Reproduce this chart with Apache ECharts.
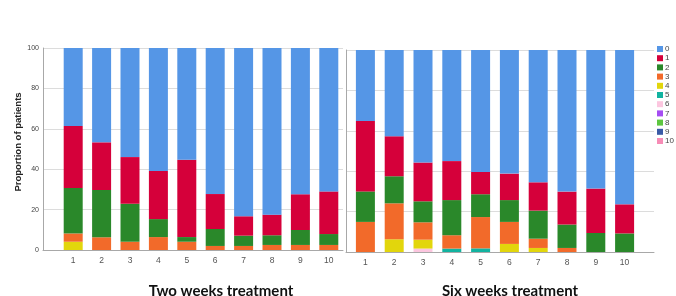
<!DOCTYPE html>
<html>
<head>
<meta charset="utf-8">
<script src="https://cdn.jsdelivr.net/npm/echarts@6/dist/echarts.min.js"></script>
<style>
  html, body { margin: 0; padding: 0; background: #fff; }
  #chart { width: 676px; height: 296px; }
</style>
</head>
<body>
<div id="chart"></div>
<script>
// categories and legend codes
const categories = ['1', '2', '3', '4', '5', '6', '7', '8', '9', '10']
const codes = ['0', '1', '2', '3', '4', '5', '6', '7', '8', '9', '10']
const colors = ['#5596e6', '#d5003a', '#2a882a', '#f26a2a', '#e2d60c', '#12b3a0',
  '#fcc6df', '#a54df2', '#5dc640', '#3a5aa6', '#f78cb6']

// two weeks treatment, % of patients per score
const two0 = [38.6, 46.7, 54.0, 60.9, 55.3, 72.3, 83.3, 82.5, 72.4, 71.0]
const two1 = [30.7, 23.6, 23.1, 23.8, 38.3, 17.3, 9.6, 10.2, 17.7, 21.1]
const two2 = [22.5, 23.4, 18.8, 8.9, 2.3, 8.4, 5.1, 4.8, 7.4, 5.4]
const two3 = [4.1, 6.3, 4.1, 6.4, 4.1, 2.0, 2.0, 2.5, 2.5, 2.5]
const two4 = [4.1, 0, 0, 0, 0, 0, 0, 0, 0, 0]
const zeros = [0, 0, 0, 0, 0, 0, 0, 0, 0, 0]

// six weeks treatment
const six0 = [35.1, 42.7, 55.7, 55.0, 60.4, 61.2, 65.5, 70.1, 68.6, 76.4]
const six1 = [34.9, 19.8, 19.2, 19.3, 11.0, 13.1, 14.0, 16.3, 22.0, 14.4]
const six2 = [15.1, 13.4, 10.4, 17.4, 11.3, 10.8, 13.9, 11.6, 9.4, 9.2]
const six3 = [14.9, 17.8, 8.6, 6.6, 15.5, 10.9, 4.6, 2.0, 0, 0]
const six4 = [0, 6.3, 4.4, 0, 0, 4.0, 2.0, 0, 0, 0]
const six5 = [0, 0, 0, 1.7, 1.8, 0, 0, 0, 0, 0]
const six6 = [0, 0, 1.7, 0, 0, 0, 0, 0, 0, 0]

const twoWeeks = [two0, two1, two2, two3, two4, zeros, zeros, zeros, zeros, zeros, zeros]
const sixWeeks = [six0, six1, six2, six3, six4, six5, six6, zeros, zeros, zeros, zeros]

const chart = echarts.init(document.getElementById('chart'))

const gridColor = '#dcdcdc'
const axisColor = '#a8a8a8'

function bgX (i) {
  return {
    gridIndex: i, type: 'value', min: 0, max: 1,
    axisLabel: { show: false }, axisTick: { show: false }, splitLine: { show: false },
    axisLine: { show: true, lineStyle: { color: axisColor } }
  }
}
function bgY (i, labels) {
  return {
    gridIndex: i, type: 'value', min: 0, max: 100, interval: 20,
    axisLine: { show: true, lineStyle: { color: axisColor } },
    axisTick: { show: false },
    axisLabel: { show: labels, fontSize: 7, color: '#444', margin: 4, fontFamily: 'Arial' },
    splitLine: { show: true, lineStyle: { color: gridColor } }
  }
}
function barX (i) {
  return {
    gridIndex: i, type: 'category', data: categories,
    axisLine: { show: false }, axisTick: { show: false },
    axisLabel: { fontSize: 8.5, color: '#555', margin: 6, fontFamily: 'Arial' }
  }
}
function barY (i) {
  return { gridIndex: i, type: 'value', min: 0, max: 100, show: false, splitLine: { show: false } }
}

let series = []
// stacked from the highest score at the bottom to 0 at the top
for (let c = codes.length - 1; c >= 0; c--) {
  series.push({
    name: codes[c], type: 'bar', stack: 'two', xAxisIndex: 1, yAxisIndex: 1,
    barWidth: 19, itemStyle: { color: colors[c] }, data: twoWeeks[c]
  })
  series.push({
    name: codes[c], type: 'bar', stack: 'six', xAxisIndex: 3, yAxisIndex: 3,
    barWidth: 19, itemStyle: { color: colors[c] }, data: sixWeeks[c]
  })
}

const option = {
  animation: false,
  color: colors,
  grid: [
    { left: 43, top: 48, width: 300, height: 202 },
    { left: 59, top: 48, width: 284, height: 202 },
    { left: 346, top: 50, width: 308, height: 202 },
    { left: 351, top: 50, width: 288, height: 202 }
  ],
  xAxis: [bgX(0), barX(1), bgX(2), barX(3)],
  yAxis: [bgY(0, true), barY(1), bgY(2, false), barY(3)],
  legend: {
    orient: 'vertical',
    left: 652, top: 40,
    data: codes,
    icon: 'rect',
    itemWidth: 6, itemHeight: 6, itemGap: 1.2,
    textStyle: { fontSize: 8, color: '#444', lineHeight: 8, fontFamily: 'Arial', padding: [0, 0, 0, -3] }
  },
  graphic: [
    {
      type: 'text', position: [18, 142], rotation: Math.PI / 2,
      style: { text: 'Proportion of patients', font: 'bold 9.5px Arial', fill: '#222', align: 'center', verticalAlign: 'middle' }
    },
    {
      type: 'text', position: [221, 291],
      style: { text: 'Two weeks treatment', font: 'bold 15px Lato', fill: '#111', align: 'center', verticalAlign: 'middle' }
    },
    {
      type: 'text', position: [510, 291],
      style: { text: 'Six weeks treatment', font: 'bold 15px Lato', fill: '#111', align: 'center', verticalAlign: 'middle' }
    }
  ],
  series: series
}

chart.setOption(option)
</script>
</body>
</html>
